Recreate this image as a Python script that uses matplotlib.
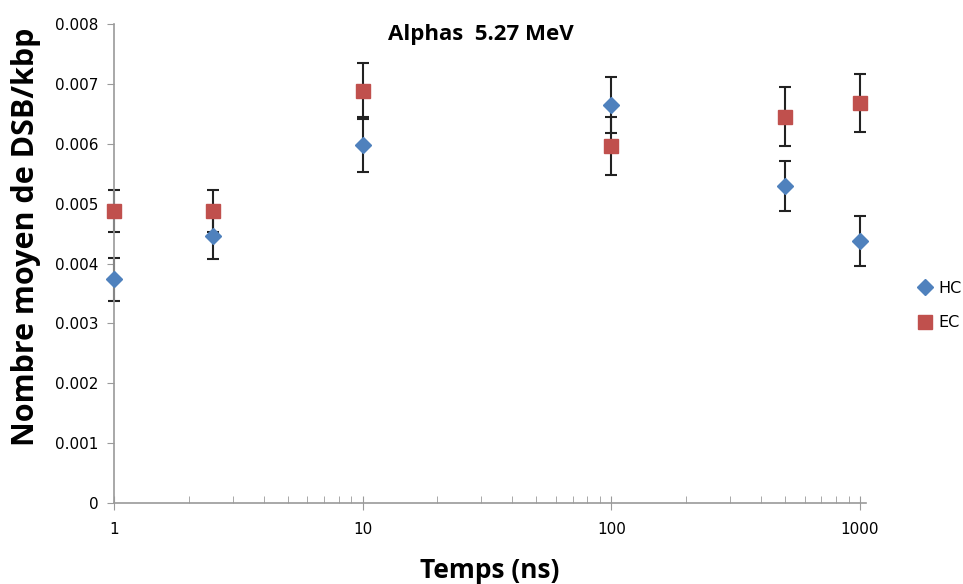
import numpy as np
import matplotlib
matplotlib.use("Agg")
import matplotlib.pyplot as plt
from matplotlib.ticker import FixedLocator, LogLocator, NullFormatter

# values
temps = [1, 2.5, 10, 100, 500, 1000]
hc = [0.00374, 0.00446, 0.00598, 0.00665, 0.00530, 0.00437]
hc_err = [0.00036, 0.00039, 0.00046, 0.00047, 0.00042, 0.00042]
ec = [0.00487, 0.00487, 0.00688, 0.00596, 0.00645, 0.00668]
ec_err = [0.00035, 0.00035, 0.00047, 0.00049, 0.00049, 0.00049]
yticks = [0, 0.001, 0.002, 0.003, 0.004, 0.005, 0.006, 0.007, 0.008]
ytick_labels = ["0", "0.001", "0.002", "0.003", "0.004", "0.005", "0.006", "0.007", "0.008"]
xticks = [1, 10, 100, 1000]

plt.rcParams['font.family'] = ['DejaVu Sans']

fig = plt.figure(figsize=(9.63, 5.84), dpi=100)
ax = fig.add_axes([114/963, 1-503/584, (866-114)/963, (503-24)/584])

for vals, errs in [(hc, hc_err), (ec, ec_err)]:
    eb = ax.errorbar(temps, vals, yerr=errs, fmt='none', ecolor='#222222',
                     elinewidth=1.5, capsize=4, capthick=1.5, zorder=2)
    for art in eb.lines[1] + eb.lines[2]:
        art.set_clip_on(False)

ax.plot(temps, hc, 'D', color='#4F81BD', ms=8, label='HC', zorder=3, clip_on=False)
ax.plot(temps, ec, 's', color='#C0504D', ms=9.5, label='EC', zorder=3, clip_on=False)

ax.set_xscale('log')
ax.set_xlim(1, 1058)
ax.set_ylim(0, 0.008)
ax.set_yticks(yticks)
ax.set_yticklabels(ytick_labels)
ax.xaxis.set_major_locator(FixedLocator(xticks))
ax.set_xticklabels([str(t) for t in xticks])
ax.xaxis.set_minor_locator(LogLocator(base=10, subs=np.arange(2, 10)))
ax.xaxis.set_minor_formatter(NullFormatter())

for s in ['top', 'right']:
    ax.spines[s].set_visible(False)
for s in ['left', 'bottom']:
    ax.spines[s].set_color('#9a9a9a')
    ax.spines[s].set_linewidth(1.2)

ax.tick_params(axis='y', which='major', direction='out', length=5, color='#9a9a9a',
               labelsize=11, pad=6)
ax.tick_params(axis='x', which='major', direction='inout', length=10, color='#9a9a9a',
               labelsize=11, pad=9)
ax.tick_params(axis='x', which='minor', direction='in', length=5, color='#9a9a9a')

ax.set_title('Alphas  5.27 MeV', fontsize=16, fontweight='bold', family='Open Sans',
             x=0.488, y=0.95)
ax.set_ylabel('Nombre moyen de DSB/kbp', fontsize=22, fontweight='bold', family='Open Sans')
ax.yaxis.set_label_coords(-0.097, 0.555)
ax.set_xlabel('Temps (ns)', fontsize=19, fontweight='bold', family='Open Sans', labelpad=14)

leg = ax.legend(loc='center left', bbox_to_anchor=(1.068, 0.412), frameon=False,
                fontsize=11.5, handletextpad=0.3, labelspacing=1.2, handlelength=1.0,
                borderpad=0, borderaxespad=0)

fig.savefig('out.png', dpi=100)
